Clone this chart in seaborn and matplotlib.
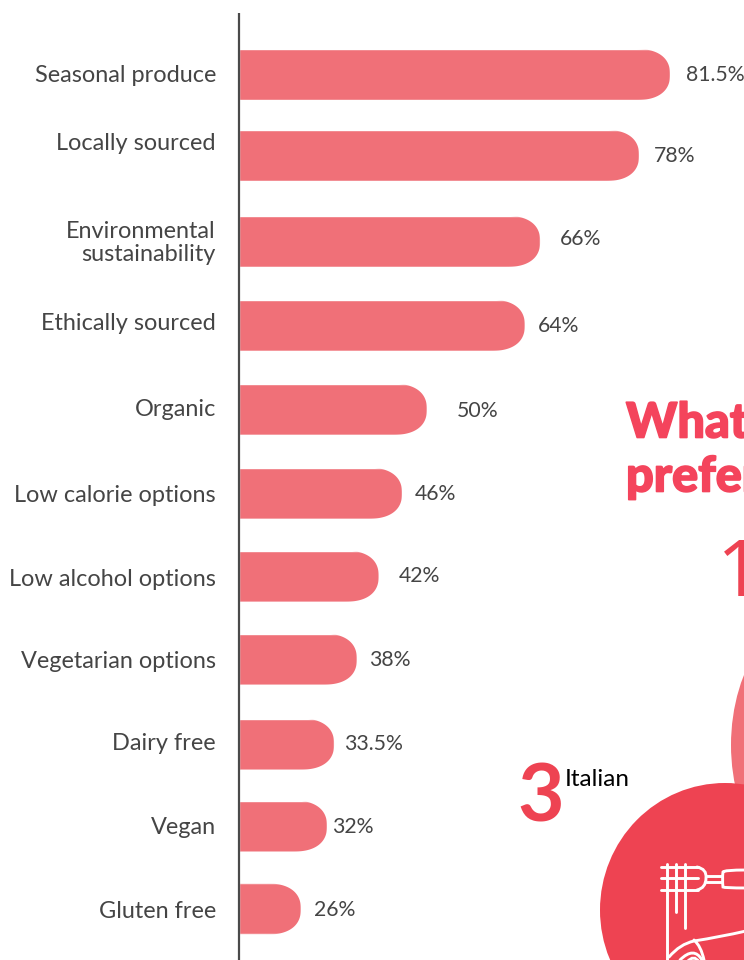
import matplotlib
matplotlib.use("Agg")
import matplotlib.pyplot as plt
import matplotlib.patheffects as pe
import numpy as np
import seaborn as sns
import pandas as pd
from matplotlib.patches import Ellipse, PathPatch
from matplotlib.path import Path
from matplotlib.transforms import IdentityTransform

# Survey shares, percent of respondents
attributes = ["Seasonal produce", "Locally sourced", "Environmental\nsustainability",
              "Ethically sourced", "Organic", "Low calorie options", "Low alcohol options",
              "Vegetarian options", "Dairy free", "Vegan", "Gluten free"]
shares = [81.5, 78, 66, 64, 50, 46, 42, 38, 33.5, 32, 26]
share_labels = ["81.5%", "78%", "66%", "64%", "50%", "46%", "42%", "38%", "33.5%", "32%", "26%"]

# Page layout, in pixels
W, H = 744, 960
AXIS_X = 239
ROW_TOP, ROW_STEP = 74.5, 83.45
bar_nudge = [0, -2.5, 0, .5, 1, 1.5, 1, .5, 2, .5, 0]
name_y = [75, 143, 243, 324, 409, 495, 579, 661, 743, 827, 911]
value_y = [75, 156, 239, 326, 411, 494, 576, 660, 744, 827, 910]
value_x = [686, 654, 560, 538, 457, 415, 399, 369, 344, 332, 314]

BAR = "#f07078"
RED = "#ee4352"
HEAD = "#f4445c"
INK = "#454545"
FONT = "Lato"

sns.set_theme(style="white")
plt.rcParams["font.family"] = [FONT, "DejaVu Sans"]
fig = plt.figure(figsize=(W / 100, H / 100), dpi=100)

# Bars sit on a power scale, so the longest run out much further
ax = fig.add_axes([AXIS_X / W, 0, (W - AXIS_X) / W, 1])
frame = pd.DataFrame({"attribute": attributes, "share": shares})
sns.barplot(frame, x="share", y="attribute", color=BAR, saturation=1, width=51 / ROW_STEP, ax=ax)
power = 1.7
ax.set_xscale("function", functions=(lambda v: v ** power, lambda t: t ** (1 / power)))
full = 81.5 * ((W - AXIS_X) / 431) ** (1 / power)
ax.set_xlim(0, full)
ax.set_ylim((H - ROW_TOP) / ROW_STEP, -ROW_TOP / ROW_STEP)
ax.axis("off")

page = fig.add_axes([0, 0, 1, 1], zorder=3)
page.set_xlim(0, W)
page.set_ylim(H, 0)
page.axis("off")
page.patch.set_alpha(0)


def rounded_tip(x0, x1, ylo, yhi, rx=34, n=2.4):
    """Outline with a square left side and a superelliptic right end."""
    mid = (ylo + yhi) / 2
    ry = (yhi - ylo) / 2
    t = np.linspace(-np.pi / 2, np.pi / 2, 80)
    xs = x1 - rx + rx * np.abs(np.cos(t)) ** (2 / n)
    ys = mid + ry * np.sign(np.sin(t)) * np.abs(np.sin(t)) ** (2 / n)
    verts = [(x0 - 4, ylo)] + list(zip(xs, ys)) + [(x0 - 4, yhi), (x0 - 4, ylo)]
    return Path(verts, closed=True)


fig.canvas.draw()
for i, bar in enumerate(ax.patches):
    bar.set_y(bar.get_y() + bar_nudge[i] / ROW_STEP)
    (x0, y0), (x1, y1) = ax.transData.transform(
        [(1e-6, bar.get_y()), (bar.get_width(), bar.get_y() + bar.get_height())])
    ylo, yhi = sorted((y0, y1))
    bar.set_clip_path(rounded_tip(x0, x1, ylo, yhi), IdentityTransform())
    page.text(value_x[i], value_y[i], share_labels[i], color=INK, fontsize=15.3,
              ha="left", va="center")
    page.text(216, name_y[i], attributes[i], color=INK, fontsize=16.9, ha="right",
              va="center", linespacing=1.15)

# Axis rule
page.plot([239, 239], [13, 960], color="#4a4a4a", lw=1.6, solid_capstyle="butt")

# Cuisine ranking panel, running off the right edge
heavy = [pe.withStroke(linewidth=1.2, foreground=HEAD)]
page.text(626, 423, "What", color=HEAD, fontsize=35, fontweight="black", va="center",
          path_effects=heavy)
page.text(626, 477, "prefer", color=HEAD, fontsize=35, fontweight="black", va="center",
          path_effects=heavy)
page.text(717, 576, "1", color=RED, fontsize=56, va="center", family="Open Sans")
page.text(517, 798, "3", color=RED, fontsize=58, fontweight="bold", va="center")
page.text(565, 780, "Italian", color="black", fontsize=17.5, va="center")

page.add_patch(Ellipse((835, 745), 208, 290, color=BAR, lw=0))
page.add_patch(Ellipse((725, 910), 250, 254, color=RED, lw=0))

# Fork and plate line icon
icon = dict(color="white", lw=2.1, solid_capstyle="round", solid_joinstyle="round")
for y in (867, 878, 890):
    page.plot([661, 698], [y, y], **icon)
for x, end in ((667, 960), (676, 912), (685, 928)):
    page.plot([x, x], [864, end], **icon)


def curve(points):
    codes = [Path.MOVETO] + [Path.CURVE3] * (len(points) - 1)
    page.add_patch(PathPatch(Path(points, codes), fc="none", ec="white", lw=2.1, capstyle="round"))


curve([(697, 867), (707, 869), (706, 878), (706, 888), (697, 890)])
page.plot([706, 722], [876, 876], **icon)
page.plot([706, 722], [882, 882], **icon)
curve([(746, 870), (724, 870), (723, 872), (722, 879), (723, 887), (724, 888), (746, 888)])
curve([(669, 957), (680, 944), (694, 941), (720, 937), (746, 931)])
curve([(694, 940), (701, 946), (704, 960)])
curve([(680, 960), (694, 946), (702, 960)])
curve([(687, 962), (694, 954), (699, 962)])

fig.savefig("out.png", dpi=100)
